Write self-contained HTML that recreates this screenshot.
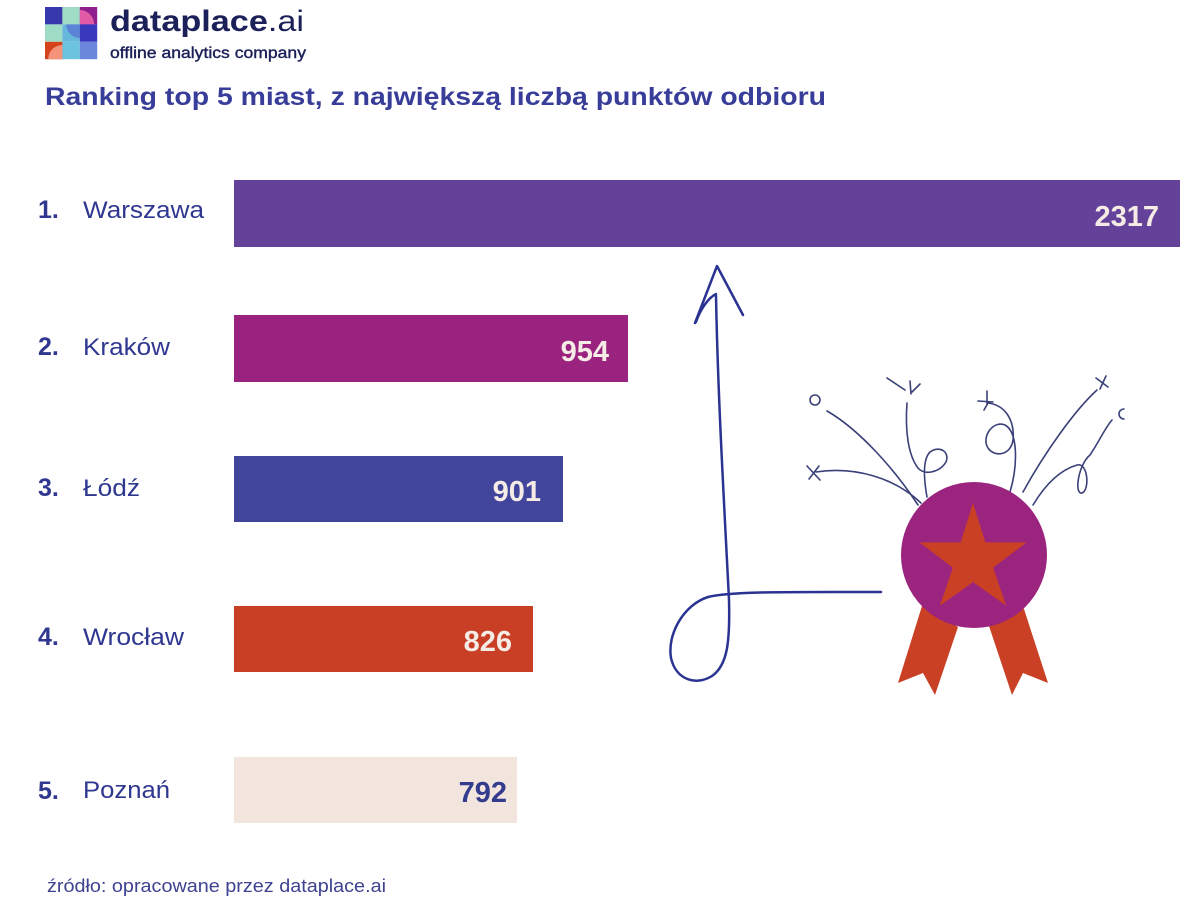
<!DOCTYPE html>
<html>
<head>
<meta charset="utf-8">
<style>
  html,body{margin:0;padding:0;background:#ffffff;}
  body{width:1200px;height:905px;overflow:hidden;}
  svg{display:block;}
  text{font-family:"Liberation Sans", sans-serif;}
</style>
</head>
<body>
<svg width="1200" height="905" viewBox="0 0 1200 905" xmlns="http://www.w3.org/2000/svg">
  <rect x="0" y="0" width="1200" height="905" fill="#ffffff"/>

  <!-- Logo grid -->
  <g>
    <rect x="45" y="7" width="17.4" height="17.4" fill="#3838ad"/>
    <rect x="62.4" y="7" width="17.4" height="17.4" fill="#9fdcc6"/>
    <rect x="79.8" y="7" width="17.4" height="17.4" fill="#8e1f8d"/>
    <path d="M79.8,24.4 L79.8,10 A14.4,14.4 0 0 1 94.2,24.4 Z" fill="#e05aa6"/>
    <rect x="45" y="24.4" width="17.4" height="17.4" fill="#9fdcc6"/>
    <rect x="62.4" y="24.4" width="17.4" height="17.4" fill="#66b8dc"/>
    <path d="M79.8,24.4 L79.8,38 A13.6,13.6 0 0 1 66.2,24.4 Z" fill="#5c84d6"/>
    <rect x="79.8" y="24.4" width="17.4" height="17.4" fill="#3a39bd"/>
    <rect x="45" y="41.8" width="17.4" height="17.4" fill="#d4431c"/>
    <path d="M62.4,59.2 L62.4,45 A14.2,14.2 0 0 0 48.2,59.2 Z" fill="#f3947a"/>
    <rect x="62.4" y="41.8" width="17.4" height="17.4" fill="#6cc3dd"/>
    <rect x="79.8" y="41.8" width="17.4" height="17.4" fill="#6a87dc"/>
  </g>

  <!-- Logo text -->
  <text x="110" y="31" font-size="30" fill="#1b2158" textLength="194" lengthAdjust="spacingAndGlyphs"><tspan font-weight="bold">dataplace</tspan><tspan>.ai</tspan></text>
  <text x="110" y="58" font-size="15.5" fill="#1b2158" stroke="#1b2158" stroke-width="0.4" textLength="196" lengthAdjust="spacingAndGlyphs">offline analytics company</text>

  <!-- Title -->
  <text x="45" y="105" font-size="25" font-weight="bold" fill="#383d99" textLength="781" lengthAdjust="spacingAndGlyphs">Ranking top 5 miast, z największą liczbą punktów odbioru</text>

  <!-- Bars -->
  <rect x="234" y="180" width="946" height="67" fill="#65429a"/>
  <rect x="234" y="315" width="394" height="67" fill="#9a237f"/>
  <rect x="234" y="456" width="329" height="66" fill="#41469c"/>
  <rect x="234" y="606" width="299" height="66" fill="#c93f26"/>
  <rect x="234" y="757" width="283" height="66" fill="#f2e5de"/>

  <!-- Rank numbers -->
  <g font-size="25" font-weight="bold" fill="#2f3790">
    <text x="38" y="218">1.</text>
    <text x="38" y="355">2.</text>
    <text x="38" y="496">3.</text>
    <text x="38" y="645">4.</text>
    <text x="38" y="799">5.</text>
  </g>
  <!-- City names -->
  <g font-size="24" fill="#2f3790">
    <text x="83" y="218" textLength="121" lengthAdjust="spacingAndGlyphs">Warszawa</text>
    <text x="83" y="355" textLength="87" lengthAdjust="spacingAndGlyphs">Kraków</text>
    <text x="83" y="496" textLength="57" lengthAdjust="spacingAndGlyphs">Łódź</text>
    <text x="83" y="645" textLength="101" lengthAdjust="spacingAndGlyphs">Wrocław</text>
    <text x="83" y="798" textLength="87" lengthAdjust="spacingAndGlyphs">Poznań</text>
  </g>

  <!-- Values -->
  <g font-size="29" font-weight="bold" text-anchor="end">
    <text x="1159" y="226" fill="#f6ece6">2317</text>
    <text x="609" y="361" fill="#f6ece6">954</text>
    <text x="541" y="501" fill="#f6ece6">901</text>
    <text x="512" y="651" fill="#f6ece6">826</text>
    <text x="507" y="802" fill="#343c8e">792</text>
  </g>

  <!-- Arrow illustration -->
  <g fill="none" stroke="#2a3392" stroke-width="2.5" stroke-linecap="round" stroke-linejoin="round">
    <path d="M716,296 C718,400 724,500 729,600 C730,640 728,665 712,676 C696,686 676,680 671,658 C667,635 683,605 708,597 C730,591 800,592 881,592"/>
    <path d="M696,322 C700,310 708,298 716,294"/>
    <path d="M695,323 L717,266 L743,315"/>
  </g>

  <!-- Fireworks -->
  <g fill="none" stroke="#3a4078" stroke-width="1.6" stroke-linecap="round">
    <circle cx="815" cy="400" r="5"/>
    <path d="M827,411 C860,430 895,470 918,505"/>
    <path d="M807,466 L820,480"/>
    <path d="M809,479 L819,466"/>
    <path d="M816,472 C855,466 895,478 921,503"/>
    <path d="M887,378 L905,390"/>
    <path d="M910,381 L911,394"/>
    <path d="M920,384 L912,392"/>
    <path d="M907,403 C905,430 908,455 918,468 C925,476 940,472 946,462 C950,452 940,445 930,452 C922,460 924,480 927,497"/>
    <path d="M978,401 L993,402"/>
    <path d="M987,391 L987,404"/>
    <path d="M984,410 L988,403"/>
    <path d="M988,403 C1005,405 1015,420 1013,440 C1011,455 995,458 988,448 C981,437 993,420 1005,425 C1018,432 1018,465 1010,492"/>
    <path d="M1023,492 C1045,452 1075,410 1097,390"/>
    <path d="M1096,378 L1108,387"/>
    <path d="M1100,389 L1106,376"/>
    <path d="M1033,505 C1045,485 1060,470 1077,465 C1088,462 1090,490 1082,493 C1074,495 1078,465 1090,455 C1100,440 1105,428 1112,420"/>
    <path d="M1124,409 A5,5 0 1 0 1124,419"/>
  </g>

  <!-- Medal ribbons -->
  <polygon points="922,606 958,627 935,695 923,673 898,683" fill="#c94025"/>
  <polygon points="1023,606 988,623 1012,695 1023,673 1048,683" fill="#c94025"/>
  <!-- Medal -->
  <circle cx="974" cy="555" r="73" fill="#9b247f"/>
  <polygon fill="#c94025" points="973.0,503.0 985.4,542.4 1026.6,542.4 993.2,567.6 1006.1,605.6 973.0,582.1 939.9,605.6 952.8,567.6 919.4,542.4 960.6,542.4"/>

  <!-- Footer -->
  <text x="47" y="892" font-size="18" fill="#3e4290" textLength="339" lengthAdjust="spacingAndGlyphs">źródło: opracowane przez dataplace.ai</text>
</svg>
</body>
</html>
